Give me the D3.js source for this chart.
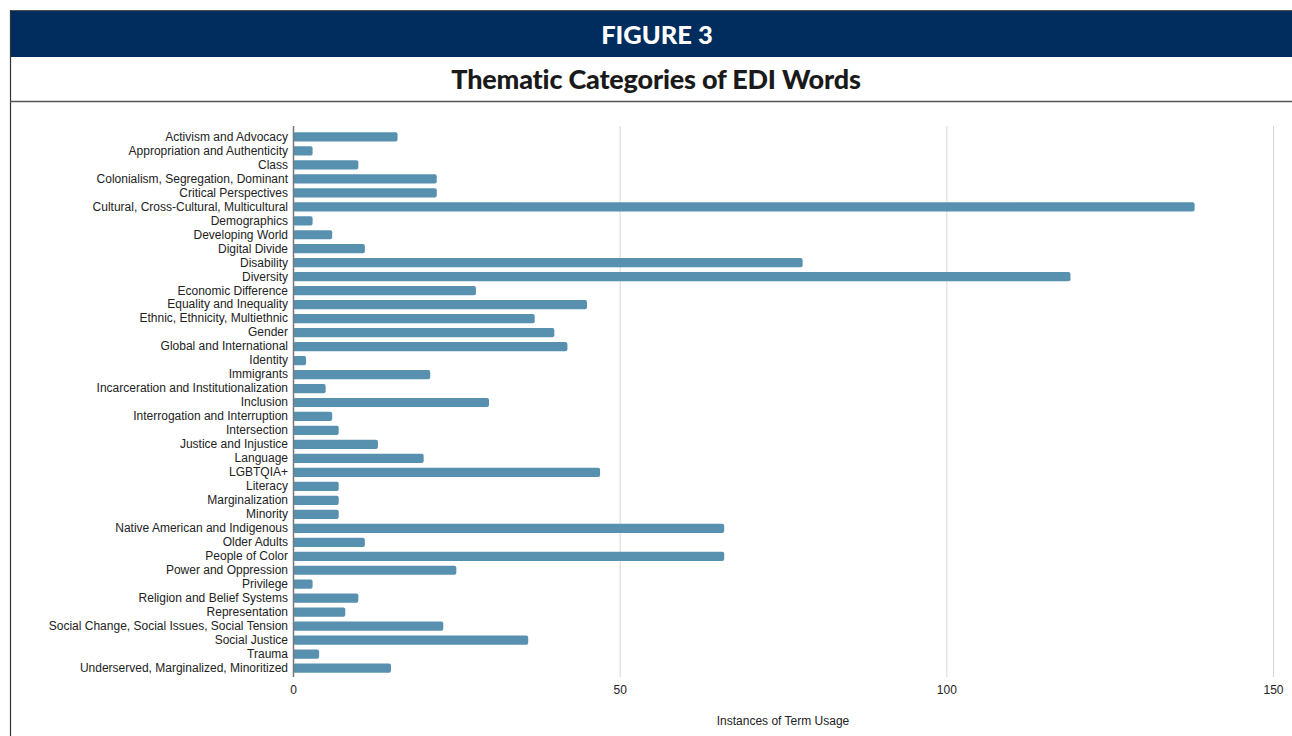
<!DOCTYPE html>
<html>
<head>
<meta charset="utf-8">
<script src="https://cdn.jsdelivr.net/npm/d3@7"></script>
<style>
    body { margin: 0; background: #fff; }
    svg { display: block; }
    .tick text { font-family: "Liberation Sans", Arial, sans-serif; font-size: 12px; fill: #222; }
</style>
</head>
<body>
<svg id="chart" width="1292" height="736"></svg>
<script>
// categories read top to bottom
var categories = [
    "Activism and Advocacy",
    "Appropriation and Authenticity",
    "Class",
    "Colonialism, Segregation, Dominant",
    "Critical Perspectives",
    "Cultural, Cross-Cultural, Multicultural",
    "Demographics",
    "Developing World",
    "Digital Divide",
    "Disability",
    "Diversity",
    "Economic Difference",
    "Equality and Inequality",
    "Ethnic, Ethnicity, Multiethnic",
    "Gender",
    "Global and International",
    "Identity",
    "Immigrants",
    "Incarceration and Institutionalization",
    "Inclusion",
    "Interrogation and Interruption",
    "Intersection",
    "Justice and Injustice",
    "Language",
    "LGBTQIA+",
    "Literacy",
    "Marginalization",
    "Minority",
    "Native American and Indigenous",
    "Older Adults",
    "People of Color",
    "Power and Oppression",
    "Privilege",
    "Religion and Belief Systems",
    "Representation",
    "Social Change, Social Issues, Social Tension",
    "Social Justice",
    "Trauma",
    "Underserved, Marginalized, Minoritized"
];

var counts = [
    16, 3, 10, 22, 22, 138, 3, 6, 11, 78,
    119, 28, 45, 37, 40, 42, 2, 21, 5, 30,
    6, 7, 13, 20, 47, 7, 7, 7, 66, 11,
    66, 25, 3, 10, 8, 23, 36, 4, 15
];

var xTicks = [0, 50, 100, 150];

var figLabel = "FIGURE 3";
var title = "Thematic Categories of EDI Words";
var xTitle = "Instances of Term Usage";

var svg = d3.select("#chart");

// frame: header band, left border, title rule
svg.append("rect")
    .attr("x", 10).attr("y", 10)
    .attr("width", 1292).attr("height", 47)
    .attr("fill", "#012c5e");
svg.append("line")
    .attr("x1", 10).attr("x2", 1292)
    .attr("y1", 10.5).attr("y2", 10.5)
    .attr("stroke", "#555").attr("stroke-width", 1);
svg.append("line")
    .attr("x1", 10.5).attr("x2", 10.5)
    .attr("y1", 10).attr("y2", 736)
    .attr("stroke", "#333").attr("stroke-width", 1.2);
svg.append("line")
    .attr("x1", 10).attr("x2", 1292)
    .attr("y1", 101.5).attr("y2", 101.5)
    .attr("stroke", "#555").attr("stroke-width", 1.5);

svg.append("text")
    .attr("x", 657).attr("y", 44)
    .attr("text-anchor", "middle")
    .attr("font-family", "Lato, 'Open Sans', sans-serif")
    .attr("font-weight", 900)
    .attr("font-size", 25.5)
    .attr("fill", "#fff")
    .text(figLabel);

svg.append("text")
    .attr("x", 656).attr("y", 89)
    .attr("text-anchor", "middle")
    .attr("font-family", "Lato, 'Open Sans', sans-serif")
    .attr("font-weight", 900)
    .attr("font-size", 27)
    .attr("letter-spacing", -0.2)
    .attr("fill", "#1a1a1a")
    .text(title);

var x = d3.scaleLinear()
    .domain([0, 150])
    .range([293, 1273]);

var y = d3.scaleBand()
    .domain(categories)
    .range([129.5, 675.5])
    .paddingInner(0.34)
    .paddingOuter(0.2);

// gridlines
svg.append("g")
    .selectAll("line")
    .data(xTicks.slice(1))
    .join("line")
    .attr("x1", function(d) { return x(d) + 0.5; })
    .attr("x2", function(d) { return x(d) + 0.5; })
    .attr("y1", 126).attr("y2", 677)
    .attr("stroke", "#d6d6d6").attr("stroke-width", 1);

// bars
svg.append("g")
    .selectAll("rect")
    .data(counts)
    .join("rect")
    .attr("x", x(0))
    .attr("y", function(d, i) { return y(categories[i]); })
    .attr("width", function(d) { return x(d) - x(0); })
    .attr("height", y.bandwidth())
    .attr("rx", 2)
    .attr("fill", "#5890b0");

// y axis labels
var yAxis = svg.append("g")
    .attr("transform", "translate(" + x(0) + ",0)")
    .call(d3.axisLeft(y).tickSize(0).tickPadding(5));
yAxis.select(".domain").remove();

svg.append("line")
    .attr("x1", x(0) + 0.5).attr("x2", x(0) + 0.5)
    .attr("y1", 126).attr("y2", 677)
    .attr("stroke", "#777").attr("stroke-width", 1.5);

// x axis labels
var xAxis = svg.append("g")
    .attr("transform", "translate(0,680)")
    .call(d3.axisBottom(x).tickValues(xTicks).tickSize(0).tickPadding(5));
xAxis.select(".domain").remove();

svg.append("text")
    .attr("x", 783).attr("y", 725)
    .attr("text-anchor", "middle")
    .attr("font-family", "'Liberation Sans', Arial, sans-serif")
    .attr("font-size", 12)
    .attr("fill", "#222")
    .text(xTitle);
</script>
</body>
</html>
